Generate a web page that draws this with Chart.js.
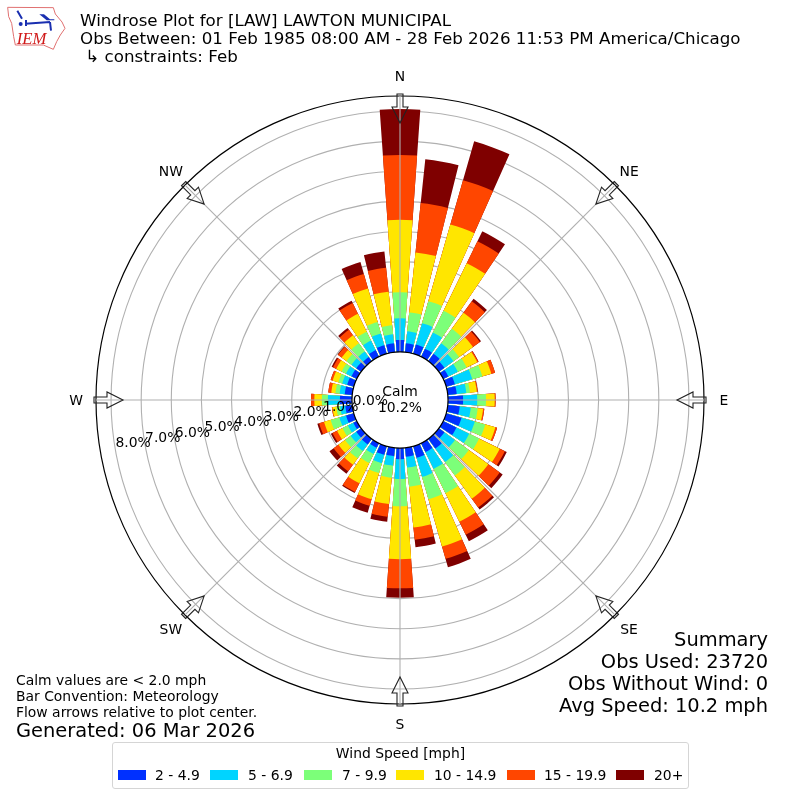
<!DOCTYPE html>
<html>
<head>
<meta charset="utf-8">
<title>Windrose Plot for [LAW] LAWTON MUNICIPAL</title>
<script src="https://cdn.jsdelivr.net/npm/chart.js@4"></script>
<style>
  html, body { margin: 0; padding: 0; background: #fff; }
  #wrap { position: relative; width: 800px; height: 800px; font-family: "DejaVu Sans", sans-serif; color: #000; overflow: hidden; }
  #wrap canvas { position: absolute; left: 0; top: 0; }
  .txt { position: absolute; white-space: pre; line-height: 1; }
  .title { left: 80px; font-size: 16.7px; }
  .note { left: 16px; font-size: 13.9px; }
  .big { right: 32px; font-size: 19.45px; }
  #legend { position: absolute; left: 112px; top: 742px; width: 575px; height: 45px; border: 1px solid #d5d5d5; border-radius: 3px; background: #fff; }
  #legend .head { position: absolute; left: 0; right: 0; top: 3px; text-align: center; font-size: 13.9px; line-height: 15px; }
  #legend .sw { position: absolute; top: 27px; width: 28px; height: 10px; }
  #legend .lab { position: absolute; top: 24px; font-size: 13.9px; line-height: 16px; white-space: pre; }
</style>
</head>
<body>
<div id="wrap">
  <canvas id="rose" width="800" height="800"></canvas>
  <svg style="position:absolute;left:0;top:0" width="70" height="56" viewBox="0 0 210 168">
    <path d="M23 22 L160 23 L166 42 L186 66 L195 85 L181 105 L170 125 L160 148 L130 135 L46 135 L41 110 L35 70 L26 50 Z" fill="none" stroke="#e07070" stroke-width="3"/>
    <path d="M76 71 L150 66 M78 60 L78 78 M150 66 L153 92 M52 32 L66 56" fill="none" stroke="#1a2fb0" stroke-width="6"/>
    <path d="M118 43 L132 43 L150 58 L163 58 L163 61 L140 61 Z" fill="#1a2fb0"/>
    <circle cx="62" cy="72" r="6" fill="#1a2fb0"/>
    <text x="50" y="131" font-family="Liberation Serif" font-style="italic" font-size="50" fill="#d01818">IEM</text>
  </svg>
  <div class="txt title" style="top:12px">Windrose Plot for [LAW] LAWTON MUNICIPAL</div>
  <div class="txt title" style="top:30px">Obs Between: 01 Feb 1985 08:00 AM - 28 Feb 2026 11:53 PM America/Chicago</div>
  <div class="txt title" style="top:48px"> ↳ constraints: Feb</div>
  <div class="txt note" style="top:674px">Calm values are &lt; 2.0 mph</div>
  <div class="txt note" style="top:690px">Bar Convention: Meteorology</div>
  <div class="txt note" style="top:706px">Flow arrows relative to plot center.</div>
  <div class="txt" style="left:16px;top:721px;font-size:19.45px">Generated: 06 Mar 2026</div>
  <div class="txt big" style="top:630px">Summary</div>
  <div class="txt big" style="top:652px">Obs Used: 23720</div>
  <div class="txt big" style="top:674px">Obs Without Wind: 0</div>
  <div class="txt big" style="top:696px">Avg Speed: 10.2 mph</div>
  <div id="legend"><div class="head">Wind Speed [mph]</div></div>
</div>
<script>
// wind direction of each bar, degrees from north
let directions = [0, 10, 20, 30, 40, 50, 60, 70, 80, 90, 100, 110, 120, 130, 140, 150, 160, 170,
  180, 190, 200, 210, 220, 230, 240, 250, 260, 270, 280, 290, 300, 310, 320, 330, 340, 350]

// percent of observations per direction, one array per speed bin
let speed2to5 = [.40, .30, .32, .30, .30, .23, .19, .30, .30, .50, .40, .53, .49, .23, .40, .33, .40, .30,
  .37, .28, .30, .17, .23, .20, .13, .27, .23, .40, .25, .23, .20, .20, .17, .25, .30, .30]
let speed5to7 = [.72, .40, .74, .60, .43, .37, .35, .60, .32, .47, .37, .46, .47, .43, .55, .62, .66, .36,
  .66, .32, .29, .23, .27, .23, .20, .23, .17, .40, .17, .17, .20, .20, .23, .35, .40, .30]
let speed7to10 = [.86, .63, .76, .80, .60, .23, .33, .35, .12, .29, .23, .36, .37, .57, .55, .90, .77, .64,
  .90, .40, .34, .33, .30, .23, .20, .30, .13, .20, .14, .13, .16, .20, .33, .33, .40, .30]
let speed10to15 = [2.41, 2.00, 2.65, 1.76, .66, .57, .39, .31, .23, .29, .18, .35, .76, .80, .96, 1.05, 1.64, 1.36,
  1.76, .88, .90, .75, .26, .27, .20, .23, .13, .25, .14, .20, .20, .20, .33, .66, 1.16, 1.12]
let speed15to20 = [2.15, 1.65, 1.53, .81, .47, .28, .04, .13, .03, .03, .04, .06, .19, .47, .36, .48, .42, .41,
  .97, .42, .23, .32, .27, .20, .17, .17, .02, .11, .10, .07, .12, .15, .23, .40, .50, .80]
let speed20up = [1.53, 1.46, 1.34, .37, .10, .05, .01, 0, 0, 0, 0, 0, .07, .12, .08, .24, .29, .25,
  .31, .17, .24, .04, .10, .17, .06, .06, 0, 0, 0, 0, .05, .02, .07, .08, .41, .54]

let speedLabels = ["2 - 4.9", "5 - 6.9", "7 - 9.9", "10 - 14.9", "15 - 19.9", "20+"]
let speedColors = ["#0030ff", "#00d4ff", "#7cff79", "#ffe600", "#ff4600", "#7f0000"]
let speedSeries = [speed2to5, speed5to7, speed7to10, speed10to15, speed15to20, speed20up]

let ringValues = [0, 1, 2, 3, 4, 5, 6, 7, 8]
let compassLabels = ["N", "NE", "E", "SE", "S", "SW", "W", "NW"]
let calmText = ["Calm", "10.2%"]

// legend positions, left edge of swatch and text inside the box
let legendSwatchX = [5, 97, 191, 283, 394, 503]
let legendTextX = [42, 135, 229, 321, 431, 541]

const BAR_DEG = 8
const GAP_DEG = 2
const AXIS_MIN = -1.595 // 0% sits on the calm circle, not in the center
const AXIS_MAX = 8.5

let legendEl = document.getElementById("legend")
speedLabels.forEach((label, i) => {
  let sw = document.createElement("div")
  sw.className = "sw"
  sw.style.left = legendSwatchX[i] + "px"
  sw.style.background = speedColors[i]
  legendEl.appendChild(sw)
  let t = document.createElement("div")
  t.className = "lab"
  t.style.left = legendTextX[i] + "px"
  t.textContent = label
  legendEl.appendChild(t)
})

// The bars are stacked, polar area has no stacking, so each dataset runs from
// the center to its cumulative value and the smaller ones paint over it.
// Every second slot is an empty gap between bars.
let running = directions.map(() => 0)
let datasets = speedSeries.map((series, s) => {
  let slots = []
  series.forEach((v, d) => {
    running[d] += v
    slots.push(running[d], 0)
  })
  return {
    label: speedLabels[s],
    data: slots,
    backgroundColor: speedColors[s],
    borderWidth: 0,
    angle: ctx => (ctx.dataIndex % 2 ? GAP_DEG : BAR_DEG)
  }
})

function compassArrow(ctx) {
  // drawn pointing down from the top of the plot, r measured from center
  ctx.beginPath()
  ctx.moveTo(-3, -306)
  ctx.lineTo(3, -306)
  ctx.lineTo(3, -293)
  ctx.lineTo(8, -293)
  ctx.lineTo(0, -277)
  ctx.lineTo(-8, -293)
  ctx.lineTo(-3, -293)
  ctx.closePath()
  ctx.stroke()
}

let roseDecor = {
  id: "roseDecor",
  afterDatasetsDraw: function (chart) {
    let scale = chart.scales.r
    let ctx = chart.ctx
    let outer = scale.getDistanceFromCenterForValue(AXIS_MAX)
    ctx.save()
    ctx.strokeStyle = "#b0b0b0"
    ctx.lineWidth = 1.1
    compassLabels.forEach((name, i) => {
      let a = (i * 45 - 90) * Math.PI / 180
      ctx.beginPath()
      ctx.moveTo(scale.xCenter, scale.yCenter)
      ctx.lineTo(scale.xCenter + outer * Math.cos(a), scale.yCenter + outer * Math.sin(a))
      ctx.stroke()
    })
    ctx.restore()
  },
  afterDraw: function (chart) {
    let scale = chart.scales.r
    let ctx = chart.ctx
    let cx = scale.xCenter
    let cy = scale.yCenter
    let outer = scale.getDistanceFromCenterForValue(AXIS_MAX)
    let inner = scale.getDistanceFromCenterForValue(0)

    // calm circle
    ctx.save()
    ctx.beginPath()
    ctx.arc(cx, cy, inner, 0, Math.PI * 2)
    ctx.fillStyle = "#fff"
    ctx.fill()
    ctx.strokeStyle = "#000"
    ctx.lineWidth = 1.2
    ctx.stroke()

    ctx.fillStyle = "#000"
    ctx.font = '13.9px "DejaVu Sans"'
    ctx.textAlign = "center"
    ctx.textBaseline = "middle"
    ctx.fillText(calmText[0], cx, cy - 8)
    ctx.fillText(calmText[1], cx, cy + 8)

    // compass arrows and names
    compassLabels.forEach((name, i) => {
      let deg = i * 45
      let a = (deg - 90) * Math.PI / 180
      ctx.save()
      ctx.translate(cx, cy)
      ctx.rotate(deg * Math.PI / 180)
      ctx.strokeStyle = "#222"
      ctx.lineWidth = 1.1
      compassArrow(ctx)
      ctx.restore()
      ctx.fillText(name, cx + (outer + 20) * Math.cos(a), cy + (outer + 20) * Math.sin(a) + 1)
    })

    // ring labels run along the 260 degree line
    let la = (260 - 90) * Math.PI / 180
    ctx.textAlign = "left"
    ctx.textBaseline = "alphabetic"
    ringValues.forEach(v => {
      let r = scale.getDistanceFromCenterForValue(v)
      ctx.fillText(v.toFixed(1) + "%", cx + r * Math.cos(la), cy + r * Math.sin(la) - 3)
    })
    ctx.restore()
  }
}

new Chart(document.getElementById("rose").getContext("2d"), {
  type: "polarArea",
  data: {
    labels: datasets[0].data.map(() => ""),
    datasets: datasets
  },
  options: {
    responsive: false,
    animation: false,
    layout: { padding: 96 },
    plugins: {
      legend: { display: false },
      tooltip: { enabled: false }
    },
    scales: {
      r: {
        min: AXIS_MIN,
        max: AXIS_MAX,
        startAngle: -BAR_DEG / 2,
        afterBuildTicks: scale => {
          scale.ticks = ringValues.concat([AXIS_MAX]).map(v => ({ value: v }))
        },
        ticks: { display: false, z: 1 },
        pointLabels: { display: false },
        angleLines: { display: false },
        grid: {
          circular: true,
          color: ctx => (ctx.tick.value === AXIS_MAX ? "#000" : "#b0b0b0"),
          lineWidth: ctx => (ctx.tick.value === AXIS_MAX ? 1.2 : 1.1)
        }
      }
    }
  },
  plugins: [roseDecor]
})
</script>
</body>
</html>
